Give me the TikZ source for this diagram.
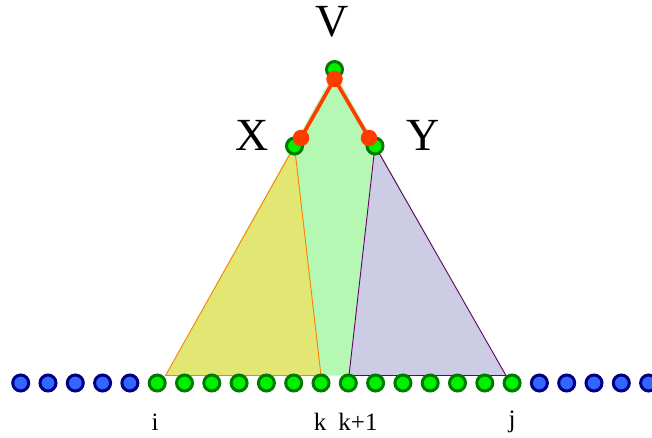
\documentclass[tikz,border=0pt]{standalone}
\usepackage{fontspec}
\setmainfont{Liberation Serif}

\definecolor{dotgreen}{HTML}{00F000}
\definecolor{rimgreen}{HTML}{007A00}
\definecolor{dotblue}{HTML}{3366FF}
\definecolor{rimblue}{HTML}{000080}
\definecolor{dotred}{HTML}{FF3C00}
\definecolor{yellowfill}{HTML}{E2E672}
\definecolor{greenfill}{HTML}{B4F8B4}
\definecolor{purplefill}{HTML}{CCCCE4}

\begin{document}
\begin{tikzpicture}[
    x=1pt, y=-1pt,
    dot/.style={
        circle, inner sep=0pt,
        minimum size=16pt,
        line width=3pt,
    },
    gdot/.style={dot, fill=dotgreen, draw=rimgreen},
    bdot/.style={dot, fill=dotblue, draw=rimblue},
    rdot/.style={circle, inner sep=0pt, minimum size=16.5pt, fill=dotred},
    big/.style={font=\fontsize{46}{46}\selectfont},
    small/.style={font=\fontsize{25}{25}\selectfont},
]
\useasboundingbox (0,0) rectangle (652,438);

% corners of the three triangles
\coordinate (bi) at (165.5,375.5);
\coordinate (bk) at (321,375.5);
\coordinate (bk1) at (349,375.5);
\coordinate (bj) at (506,375.5);
\coordinate (tv) at (334.5,72);
\coordinate (tx) at (294.5,146);
\coordinate (ty) at (375,146);

% big green triangle under everything
\fill[greenfill] (tv) -- (bi) -- (bj) -- cycle;

% left subtree
\filldraw[fill=yellowfill, draw=orange, line width=0.9pt] (tx) -- (bi) -- (bk) -- cycle;

% right subtree
\filldraw[fill=purplefill, draw=violet!80!black, line width=0.9pt] (ty) -- (bk1) -- (bj) -- cycle;

% row of leaves
\foreach \n in {0,...,23} {
    \ifnum\n<5
        \node[bdot] (d\n) at (20.7+27.3*\n,383) {};
    \else\ifnum\n>18
        \node[bdot] (d\n) at (20.7+27.3*\n,383) {};
    \else
        \node[gdot] (d\n) at (20.7+27.3*\n,383) {};
    \fi\fi
}

\node[small] (li) at (155,422) {i};
\node[small] (lk) at (320,422) {k};
\node[small] (lk1) at (358,422) {k+1};
\node[small] (lj) at (512,422) {j};

% top nodes
\node[gdot] (V) at (334.5,69.5) {};
\node[gdot] (X) at (294.5,146) {};
\node[gdot] (Y) at (375,146) {};
\node[big] (lv) at (332,22) {V};
\node[big] (lx) at (252,135) {X};
\node[big] (ly) at (423,135) {Y};

% red path X - V - Y
\node[rdot] (vr) at (334.5,79) {};
\node[rdot] (xr) at (301,138) {};
\node[rdot] (yr) at (369,138) {};
\draw[dotred, line width=3.6pt] (xr.center) -- (vr.center) -- (yr.center);

\end{tikzpicture}
\end{document}
